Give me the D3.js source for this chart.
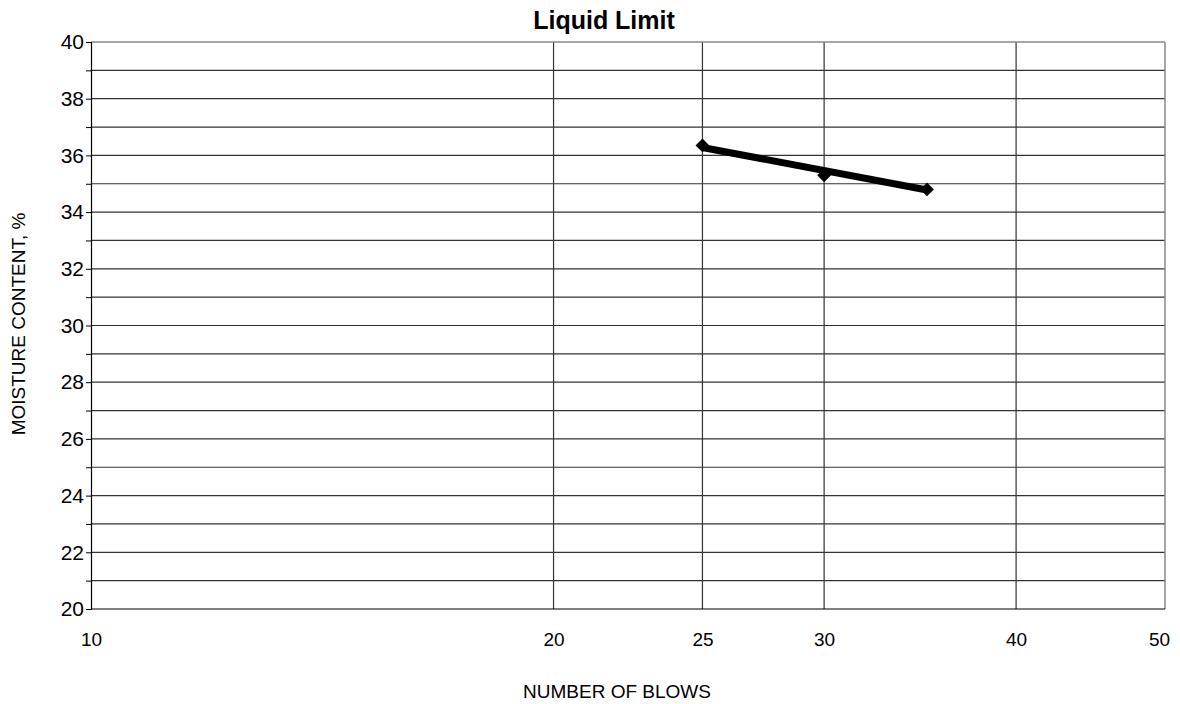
<!DOCTYPE html>
<html><head><meta charset="utf-8">
<script src="https://cdn.jsdelivr.net/npm/d3@7"></script>
<style>body{margin:0;background:#fff}svg{display:block;font-family:"Liberation Sans",Arial,sans-serif}</style>
</head><body><svg id="c" width="1180" height="704"></svg>
<script>
const blows = [25, 30, 35];
const moisture = [36.35, 35.3, 34.8];
const trendBlows = [25, 35];
const trendMoisture = [36.28, 34.78];
const xTicks = [10, 20, 25, 30, 40, 50];
const xGrid = [20, 25, 30, 40];
const yLabelTicks = [20, 22, 24, 26, 28, 30, 32, 34, 36, 38, 40];
const yGrid = d3.range(20, 41, 1);

const svg = d3.select("#c");
const L = 91, R = 1165, T = 42, B = 609;
const x = d3.scaleLog().domain([10, 50]).range([L, R]);
const y = d3.scaleLinear().domain([20, 40]).range([B, T]);
const FF = "Liberation Sans, Arial, sans-serif";

svg.append("g").selectAll("line").data(yGrid.filter(v => v > 20 && v < 40)).join("line")
  .attr("x1", L).attr("x2", R).attr("y1", d => y(d)).attr("y2", d => y(d))
  .attr("stroke", "#333").attr("stroke-width", 1.2);
svg.append("g").selectAll("line").data(xGrid).join("line")
  .attr("x1", d => x(d)).attr("x2", d => x(d)).attr("y1", T).attr("y2", B)
  .attr("stroke", "#333").attr("stroke-width", 1.2);
svg.append("line").attr("x1", L).attr("x2", R).attr("y1", T).attr("y2", T).attr("stroke", "#888").attr("stroke-width", 1.5);
svg.append("line").attr("x1", R).attr("x2", R).attr("y1", T).attr("y2", B).attr("stroke", "#888").attr("stroke-width", 1.5);

const yAxis = d3.axisLeft(y).tickValues(yGrid).tickSize(5).tickFormat(d => yLabelTicks.includes(d) ? d : "");
const ga = svg.append("g").attr("transform", `translate(${L},0)`).call(yAxis)
  .attr("font-size", 21).attr("font-family", FF);
ga.select(".domain").attr("stroke", "#000").attr("stroke-width", 1.2);
ga.selectAll(".tick line").attr("stroke", "#000");
ga.selectAll("text").attr("fill", "#000").attr("x", -7);

svg.append("line").attr("x1", L).attr("x2", R).attr("y1", B).attr("y2", B).attr("stroke", "#000").attr("stroke-width", 1.2);
const xAxis = d3.axisBottom(x).tickValues(xTicks).tickSize(0).tickFormat(d3.format("d"));
const gx = svg.append("g").attr("transform", `translate(0,${B})`).call(xAxis)
  .attr("font-size", 19).attr("font-family", FF);
gx.select(".domain").remove();
gx.selectAll("text").attr("fill", "#000").attr("y", 37).attr("dy", 0)
  .attr("dx", d => d === 50 ? -6 : 0);

const pts = blows.map((b, i) => [b, moisture[i]]);
const tr = trendBlows.map((b, i) => [b, trendMoisture[i]]);
svg.append("path").datum(tr)
  .attr("d", d3.line().x(d => x(d[0])).y(d => y(d[1])))
  .attr("stroke", "#000").attr("stroke-width", 7).attr("fill", "none");
svg.append("g").selectAll("path").data(pts).join("path")
  .attr("d", d3.symbol().type(d3.symbolSquare).size(95))
  .attr("transform", d => `translate(${x(d[0])},${y(d[1])}) rotate(45)`)
  .attr("fill", "#000");

svg.append("text").attr("x", 604).attr("y", 29).attr("text-anchor", "middle")
  .attr("font-size", 25).attr("font-weight", "bold").text("Liquid Limit");
svg.append("text").attr("x", 617).attr("y", 698).attr("text-anchor", "middle")
  .attr("font-size", 19).text("NUMBER OF BLOWS");
svg.append("text").attr("transform", "translate(25,324) rotate(-90)").attr("text-anchor", "middle")
  .attr("font-size", 19).text("MOISTURE CONTENT, %");
</script></body></html>
